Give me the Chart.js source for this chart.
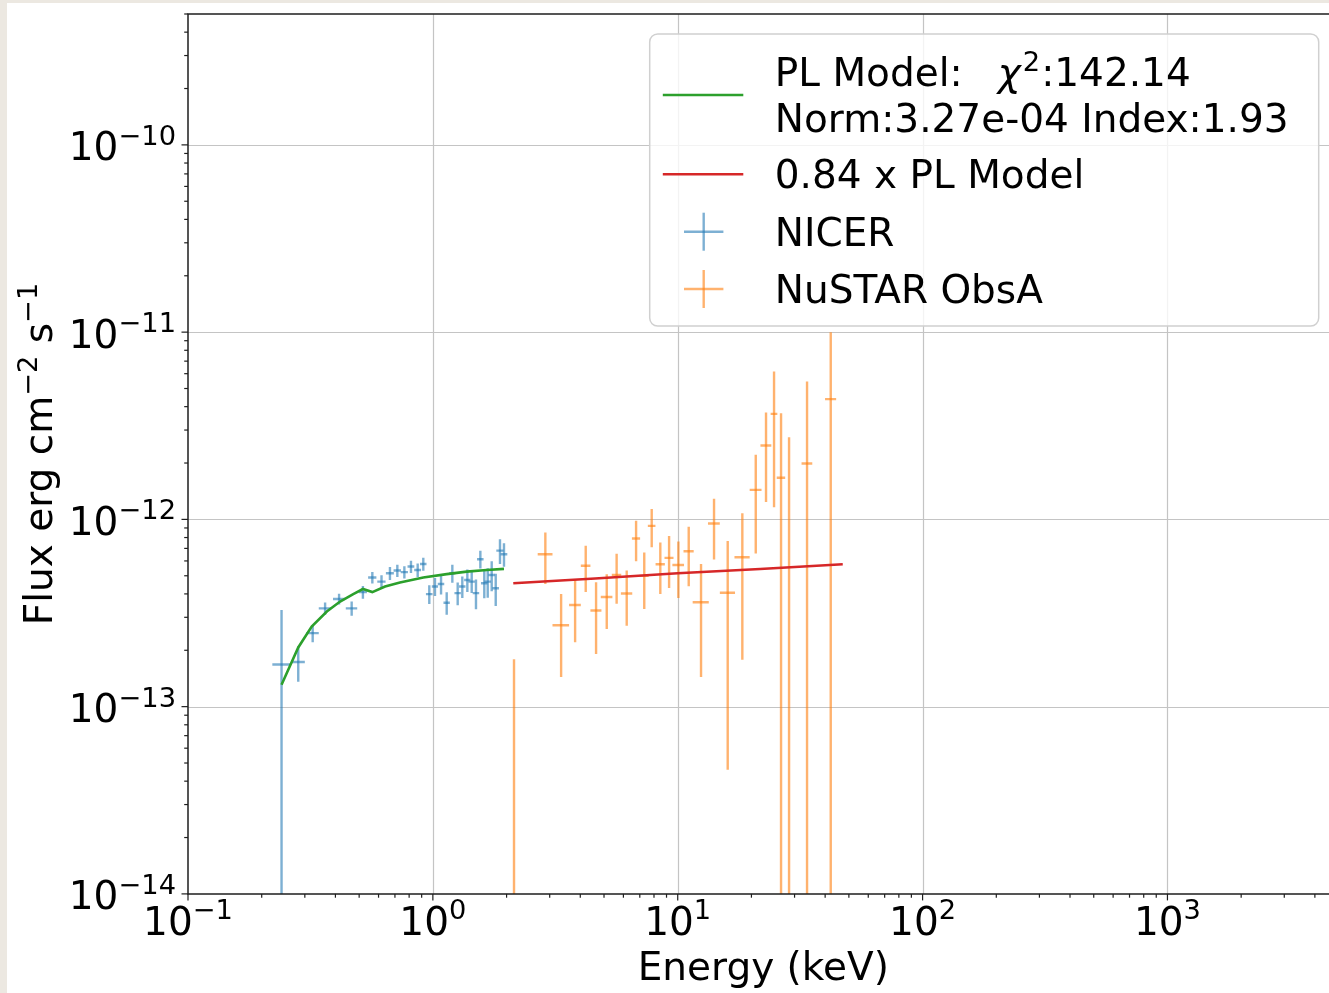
<!DOCTYPE html>
<html>
<head>
<meta charset="utf-8">
<script src="https://cdn.jsdelivr.net/npm/chart.js@4.4.1/dist/chart.umd.min.js"></script>
<style>
  html, body { margin: 0; padding: 0; overflow: hidden; width: 1329px; height: 993px; background: #ece8e1; }
  #wrap { position: absolute; left: 7px; top: 3px; width: 1340px; height: 990px; background: #ffffff; }
  canvas { display: block; }
</style>
</head>
<body>
<div id="wrap"><canvas id="spec" width="1340" height="990"></canvas></div>
<script>
// ---- NICER unfolded spectrum (energy in keV, flux in erg cm^-2 s^-1) ----
const nicerEnergy    = [0.241, 0.282, 0.323, 0.363, 0.414, 0.466, 0.518, 0.566, 0.617, 0.668, 0.716, 0.765, 0.814, 0.867, 0.914, 0.967,
                        1.020, 1.080, 1.139, 1.201, 1.263, 1.319, 1.383, 1.441, 1.500, 1.563, 1.622, 1.675, 1.739, 1.806, 1.880, 1.952];
const nicerEnergyErr = [0.020, 0.018, 0.019, 0.021, 0.023, 0.025, 0.020, 0.022, 0.024, 0.025, 0.025, 0.026, 0.026, 0.028, 0.028, 0.030,
                        0.030, 0.033, 0.034, 0.035, 0.038, 0.040, 0.041, 0.044, 0.046, 0.048, 0.050, 0.052, 0.054, 0.056, 0.064, 0.062];
const nicerFlux      = [1.68e-13, 1.73e-13, 2.47e-13, 3.35e-13, 3.76e-13, 3.35e-13, 4.09e-13, 4.89e-13, 4.65e-13, 5.16e-13, 5.33e-13, 5.23e-13,
                        5.60e-13, 5.37e-13, 5.78e-13, 3.99e-13, 4.38e-13, 4.52e-13, 3.59e-13, 5.16e-13, 4.04e-13, 4.38e-13, 4.75e-13, 4.65e-13,
                        4.04e-13, 6.13e-13, 4.56e-13, 4.65e-13, 5.05e-13, 4.29e-13, 6.81e-13, 6.52e-13];
const nicerFluxErr   = [1.60e-13, 0.37e-13, 0.26e-13, 0.25e-13, 0.25e-13, 0.29e-13, 0.32e-13, 0.35e-13, 0.38e-13, 0.41e-13, 0.40e-13, 0.39e-13,
                        0.42e-13, 0.44e-13, 0.46e-13, 0.46e-13, 0.48e-13, 0.55e-13, 0.49e-13, 0.57e-13, 0.56e-13, 0.58e-13, 0.65e-13, 0.61e-13,
                        0.73e-13, 0.67e-13, 0.77e-13, 0.83e-13, 0.92e-13, 0.84e-13, 1.03e-13, 0.93e-13];

// ---- NuSTAR ObsA unfolded spectrum ----
const nustarEnergy    = [2.145, 2.88, 3.34, 3.81, 4.21, 4.64, 5.13, 5.63, 6.19, 6.76, 7.30, 7.83, 8.49, 9.22, 10.06, 11.09, 12.45, 14.07,
                         16.00, 18.36, 20.83, 22.94, 24.74, 26.42, 28.49, 33.74, 42.16];
const nustarEnergyErr = [0.20, 0.20, 0.26, 0.21, 0.19, 0.24, 0.28, 0.25, 0.33, 0.26, 0.31, 0.28, 0.37, 0.39, 0.55, 0.53, 0.94, 0.78,
                         1.14, 1.31, 1.16, 1.17, 0.78, 1.05, 1.00, 1.70, 2.20];
const nustarFlux      = [4.0e-15, 6.52e-13, 2.72e-13, 3.49e-13, 5.66e-13, 3.26e-13, 3.85e-13, 5.05e-13, 4.02e-13, 7.90e-13, 4.99e-13, 9.23e-13,
                         5.76e-13, 6.23e-13, 5.71e-13, 6.76e-13, 3.61e-13, 9.50e-13, 4.06e-13, 6.28e-13, 1.437e-12, 2.48e-12, 3.66e-12,
                         1.67e-12, 5.0e-15, 1.99e-12, 4.39e-12];
const nustarFluxErr   = [1.75e-13, 2.00e-13, 1.28e-13, 1.28e-13, 1.57e-13, 1.35e-13, 1.25e-13, 1.51e-13, 1.32e-13, 1.92e-13, 1.67e-13, 2.13e-13,
                         1.76e-13, 1.93e-13, 1.91e-13, 2.37e-13, 2.17e-13, 3.40e-13, 3.60e-13, 4.50e-13, 7.80e-13, 1.24e-12, 2.50e-12,
                         2.02e-12, 2.745e-12, 3.46e-12, 5.60e-12];

// ---- Absorbed power-law model over the NICER band ----
const plModelEnergy = [0.241, 0.282, 0.320, 0.369, 0.418, 0.473, 0.518, 0.566, 0.638, 0.734, 0.914, 1.139, 1.375, 1.659, 1.952];
const plModelFlux   = [1.31e-13, 2.07e-13, 2.68e-13, 3.22e-13, 3.64e-13, 3.99e-13, 4.25e-13, 4.09e-13, 4.38e-13, 4.60e-13,
                       4.89e-13, 5.10e-13, 5.26e-13, 5.37e-13, 5.44e-13];

// ---- Cross-normalised model over the NuSTAR band ----
const scaledModelEnergy = [2.13, 4.6, 10.0, 21.7, 47.2];
const scaledModelFlux   = [4.56e-13, 4.83e-13, 5.16e-13, 5.43e-13, 5.76e-13];

// ---- Axes ----
const xTickPowers = [-1, 0, 1, 2, 3];
const yTickPowers = [-14, -13, -12, -11, -10];
const xLimits = [0.1, 5000];
const yLimits = [1e-14, 5e-10];
const xTitle = 'Energy (keV)';
const yTitleRuns = [['Flux erg cm', false], ['\u22122', true], [' s', false], ['\u22121', true]];

// ---- Legend text ----
const modelName = 'PL Model:';
const modelChi2 = '142.14';
const modelParams = 'Norm:3.27e-04 Index:1.93';
const scaledName = '0.84 x PL Model';
const nicerName = 'NICER';
const nustarName = 'NuSTAR ObsA';

const COLORS = {
  nicer: 'rgba(31,119,180,0.58)',
  nustar: 'rgba(255,127,14,0.6)',
  model: '#2ca02c',
  scaled: '#d62728',
  grid: '#c4c4c4',
  axis: '#1e1e1e'
};
const FAMILY = '"DejaVu Sans", "Liberation Sans", sans-serif';
const BIG = 39, SMALL = 27.3, SUP = 15.5;

function pts(xs, ys) { return xs.map((x, i) => ({ x: x, y: ys[i] })); }

// Draw a run of text pieces (base text and superscripts) on one baseline.
function runsWidth(ctx, runs) {
  let w = 0;
  for (const r of runs) { ctx.font = (r.italic ? 'italic ' : '') + r.size + 'px ' + FAMILY; w += ctx.measureText(r.t).width + (r.gap || 0); }
  return w;
}
function drawRuns(ctx, runs, x, y, align) {
  const w = runsWidth(ctx, runs);
  let cx = align === 'center' ? x - w / 2 : (align === 'right' ? x - w : x);
  ctx.textAlign = 'left';
  ctx.textBaseline = 'alphabetic';
  for (const r of runs) {
    cx += r.gap || 0;
    ctx.font = (r.italic ? 'italic ' : '') + r.size + 'px ' + FAMILY;
    ctx.fillText(r.t, cx, y + (r.dy || 0));
    cx += ctx.measureText(r.t).width;
  }
}
function powerRuns(p) {
  return [{ t: '10', size: BIG }, { t: (p < 0 ? '\u2212' : '') + Math.abs(p), size: SMALL, dy: -SUP }];
}

function drawErrorBars(chart, E, dE, F, dF, color) {
  const ctx = chart.ctx, a = chart.chartArea, xs = chart.scales.x, ys = chart.scales.y;
  ctx.save();
  ctx.beginPath();
  ctx.rect(a.left, a.top, a.right - a.left, a.bottom - a.top);
  ctx.clip();
  ctx.strokeStyle = color;
  ctx.lineWidth = 2.4;
  for (let i = 0; i < E.length; i++) {
    const px = xs.getPixelForValue(E[i]);
    const lo = F[i] - dF[i], hi = F[i] + dF[i];
    const yLo = lo > 0 ? ys.getPixelForValue(lo) : a.bottom + 10;
    const yHi = ys.getPixelForValue(hi);
    ctx.beginPath(); ctx.moveTo(px, yLo); ctx.lineTo(px, yHi); ctx.stroke();
    const py = ys.getPixelForValue(F[i]);
    ctx.beginPath();
    ctx.moveTo(xs.getPixelForValue(E[i] - dE[i]), py);
    ctx.lineTo(xs.getPixelForValue(E[i] + dE[i]), py);
    ctx.stroke();
  }
  ctx.restore();
}

const spectrumFrame = {
  id: 'spectrumFrame',
  beforeDatasetsDraw(chart) {
    const ctx = chart.ctx, a = chart.chartArea, xs = chart.scales.x, ys = chart.scales.y;
    // major grid
    ctx.save();
    ctx.strokeStyle = COLORS.grid;
    ctx.lineWidth = 1.2;
    for (const p of xTickPowers) {
      const x = Math.round(xs.getPixelForValue(Math.pow(10, p))) + 0.5;
      if (x <= a.left + 1 || x >= a.right) continue;
      ctx.beginPath(); ctx.moveTo(x, a.top); ctx.lineTo(x, a.bottom); ctx.stroke();
    }
    for (const p of yTickPowers) {
      const y = Math.round(ys.getPixelForValue(Math.pow(10, p))) + 0.5;
      if (y >= a.bottom - 1 || y <= a.top) continue;
      ctx.beginPath(); ctx.moveTo(a.left, y); ctx.lineTo(a.right, y); ctx.stroke();
    }
    ctx.restore();
    drawErrorBars(chart, nicerEnergy, nicerEnergyErr, nicerFlux, nicerFluxErr, COLORS.nicer);
    drawErrorBars(chart, nustarEnergy, nustarEnergyErr, nustarFlux, nustarFluxErr, COLORS.nustar);
  },
  afterDatasetsDraw(chart) {
    const ctx = chart.ctx, a = chart.chartArea, xs = chart.scales.x, ys = chart.scales.y;
    ctx.save();
    // spines
    ctx.strokeStyle = COLORS.axis;
    ctx.lineWidth = 1.5;
    ctx.beginPath();
    ctx.moveTo(a.right + 20, a.top); ctx.lineTo(a.left, a.top); ctx.lineTo(a.left, a.bottom); ctx.lineTo(a.right + 20, a.bottom);
    ctx.stroke();
    // ticks
    ctx.lineWidth = 1.2;
    const lx0 = Math.log10(xLimits[0]), lx1 = Math.log10(xLimits[1]);
    for (let d = Math.floor(lx0); d <= Math.ceil(lx1); d++) {
      for (let k = 1; k <= 9; k++) {
        const v = k * Math.pow(10, d);
        if (v < xLimits[0] * 0.999 || v > xLimits[1] * 1.001) continue;
        const x = xs.getPixelForValue(v);
        const len = k === 1 ? 6.5 : 3.8;
        ctx.beginPath(); ctx.moveTo(x, a.bottom); ctx.lineTo(x, a.bottom + len); ctx.stroke();
      }
    }
    const ly0 = Math.log10(yLimits[0]), ly1 = Math.log10(yLimits[1]);
    for (let d = Math.floor(ly0); d <= Math.ceil(ly1); d++) {
      for (let k = 1; k <= 9; k++) {
        const v = k * Math.pow(10, d);
        if (v < yLimits[0] * 0.999 || v > yLimits[1] * 1.001) continue;
        const y = ys.getPixelForValue(v);
        const len = k === 1 ? 6.5 : 3.8;
        ctx.beginPath(); ctx.moveTo(a.left, y); ctx.lineTo(a.left - len, y); ctx.stroke();
      }
    }
    // tick labels
    ctx.fillStyle = '#000';
    for (const p of xTickPowers) {
      drawRuns(ctx, powerRuns(p), xs.getPixelForValue(Math.pow(10, p)), a.bottom + 41, 'center');
    }
    for (const p of yTickPowers) {
      drawRuns(ctx, powerRuns(p), a.left - 12, ys.getPixelForValue(Math.pow(10, p)) + 15.5, 'right');
    }
    // axis titles
    drawRuns(ctx, [{ t: xTitle, size: BIG }], (a.left + a.right) / 2, a.bottom + 86, 'center');
    ctx.save();
    ctx.translate(45, (a.top + a.bottom) / 2);
    ctx.rotate(-Math.PI / 2);
    drawRuns(ctx, yTitleRuns.map(r => r[1] ? { t: r[0], size: SMALL, dy: -SUP } : { t: r[0], size: BIG }), 0, 0, 'center');
    ctx.restore();

    // legend
    const bx = 642.7, by = 31, bw = 669, bh = 292, rad = 8;
    ctx.beginPath();
    ctx.moveTo(bx + rad, by);
    ctx.arcTo(bx + bw, by, bx + bw, by + bh, rad);
    ctx.arcTo(bx + bw, by + bh, bx, by + bh, rad);
    ctx.arcTo(bx, by + bh, bx, by, rad);
    ctx.arcTo(bx, by, bx + bw, by, rad);
    ctx.closePath();
    ctx.fillStyle = 'rgba(255,255,255,0.8)';
    ctx.fill();
    ctx.strokeStyle = '#d0d0d0';
    ctx.lineWidth = 1.5;
    ctx.stroke();

    const hx0 = 655.8, hx1 = 736.3, hc = 696.7, tx = 767.8;
    ctx.lineWidth = 2.6;
    ctx.strokeStyle = COLORS.model;
    ctx.beginPath(); ctx.moveTo(hx0, 92); ctx.lineTo(hx1, 92); ctx.stroke();
    ctx.strokeStyle = COLORS.scaled;
    ctx.beginPath(); ctx.moveTo(hx0, 171.3); ctx.lineTo(hx1, 171.3); ctx.stroke();
    ctx.lineWidth = 2.4;
    [[COLORS.nicer, 228.7], [COLORS.nustar, 286]].forEach(([c, y]) => {
      ctx.strokeStyle = c;
      ctx.beginPath(); ctx.moveTo(hc, y - 19); ctx.lineTo(hc, y + 19); ctx.stroke();
      ctx.beginPath(); ctx.moveTo(hc - 19.7, y); ctx.lineTo(hc + 19.7, y); ctx.stroke();
    });

    ctx.fillStyle = '#000';
    drawRuns(ctx, [
      { t: modelName, size: BIG },
      { t: '\u03c7', size: BIG, italic: true, gap: 35 },
      { t: '2', size: SMALL, dy: -SUP, gap: 2 },
      { t: ':' + modelChi2, size: BIG, gap: 1 }
    ], tx, 83, 'left');
    drawRuns(ctx, [{ t: modelParams, size: BIG }], tx, 128.7, 'left');
    drawRuns(ctx, [{ t: scaledName, size: BIG }], tx, 185.3, 'left');
    drawRuns(ctx, [{ t: nicerName, size: BIG }], tx, 243, 'left');
    drawRuns(ctx, [{ t: nustarName, size: BIG }], tx, 299.7, 'left');
    ctx.restore();
  }
};

new Chart(document.getElementById('spec'), {
  type: 'scatter',
  data: {
    datasets: [
      { label: nicerName, data: pts(nicerEnergy, nicerFlux), pointRadius: 0, showLine: false },
      { label: nustarName, data: pts(nustarEnergy, nustarFlux), pointRadius: 0, showLine: false },
      { label: modelName, data: pts(plModelEnergy, plModelFlux), showLine: true, borderColor: COLORS.model,
        borderWidth: 2.6, pointRadius: 0, tension: 0, fill: false },
      { label: scaledName, data: pts(scaledModelEnergy, scaledModelFlux), showLine: true, borderColor: COLORS.scaled,
        borderWidth: 2.6, pointRadius: 0, tension: 0, fill: false }
    ]
  },
  options: {
    responsive: false,
    animation: false,
    events: [],
    layout: { padding: { left: 181, top: 11, right: 8.4, bottom: 99.1 } },
    scales: {
      x: { type: 'logarithmic', min: xLimits[0], max: xLimits[1], display: false },
      y: { type: 'logarithmic', min: yLimits[0], max: yLimits[1], display: false }
    },
    plugins: { legend: { display: false }, tooltip: { enabled: false } }
  },
  plugins: [spectrumFrame]
});
</script>
</body>
</html>
